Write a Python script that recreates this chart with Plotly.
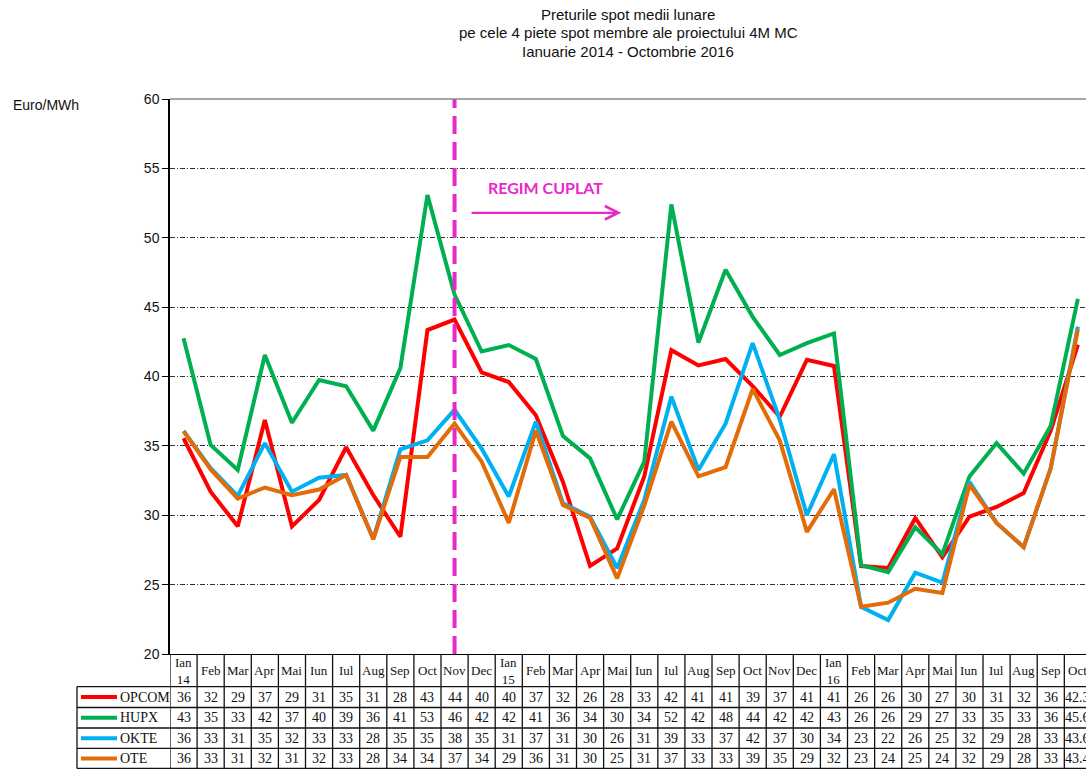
import plotly.graph_objects as go

# ---------------- data ----------------
months = ["Ian<br>14", "Feb", "Mar", "Apr", "Mai", "Iun", "Iul", "Aug", "Sep", "Oct", "Nov", "Dec",
          "Ian<br>15", "Feb", "Mar", "Apr", "Mai", "Iun", "Iul", "Aug", "Sep", "Oct", "Nov", "Dec",
          "Ian<br>16", "Feb", "Mar", "Apr", "Mai", "Iun", "Iul", "Aug", "Sep", "Oct"]

opcom = [35.55, 31.7, 29.2, 36.86, 29.2, 31.1, 34.9, 31.46, 28.45, 43.35, 44.1, 40.3,
         39.6, 37.2, 32.4, 26.34, 27.6, 32.8, 41.9, 40.8, 41.26, 39.3, 37.1, 41.2,
         40.76, 26.34, 26.2, 29.8, 26.97, 29.9, 30.6, 31.6, 36.1, 42.3]
hupx = [42.75, 35.06, 33.26, 41.55, 36.67, 39.75, 39.3, 36.1, 40.6, 53.08, 45.9, 41.8,
        42.27, 41.26, 35.7, 34.1, 29.7, 33.86, 52.4, 42.45, 47.7, 44.3, 41.55, 42.4,
        43.1, 26.4, 25.9, 29.13, 27.2, 32.8, 35.2, 33.0, 36.45, 45.6]
okte = [36.07, 33.4, 31.4, 35.2, 31.7, 32.7, 32.9, 28.3, 34.75, 35.4, 37.6, 34.8,
        31.35, 36.75, 30.86, 29.9, 26.2, 31.1, 38.55, 33.26, 36.6, 42.4, 36.9, 30.0,
        34.4, 23.4, 22.45, 25.86, 25.14, 32.4, 29.45, 27.7, 33.4, 43.6]
ote = [36.07, 33.3, 31.2, 32.0, 31.45, 31.85, 32.9, 28.27, 34.2, 34.2, 36.6, 33.86,
       29.45, 36.1, 30.74, 29.8, 25.45, 30.7, 36.75, 32.8, 33.46, 39.1, 35.4, 28.8,
       31.87, 23.4, 23.7, 24.7, 24.4, 32.2, 29.45, 27.7, 33.4, 43.4]

series_names = ["OPCOM", "HUPX", "OKTE", "OTE"]
series_values = [opcom, hupx, okte, ote]
series_colors = ["#FF0000", "#00B050", "#00B0F0", "#E36C09"]

coupling_start = 10  # Nov 2014

# ---------------- geometry helpers ----------------
W, H = 1086, 769
ML, MR, MT, MB = 170, 0, 99, 115
plot_h = H - MT - MB
plot_w = W - ML - MR
XR = [-0.5, 33.3]


def py(p):  # pixel y -> paper y
    return (H - MB - p) / plot_h


def px(p):  # pixel x -> paper x
    return (p - ML) / plot_w


x_idx = list(range(len(months)))

fig = go.Figure()
for name, vals, col in zip(series_names, series_values, series_colors):
    fig.add_trace(go.Scatter(x=x_idx, y=vals, mode="lines", name=name,
                             line=dict(color=col, width=4), showlegend=False,
                             hoverinfo="skip"))

shapes = []
annotations = []

# coupling line
shapes.append(dict(type="line", xref="x", yref="paper", x0=coupling_start, x1=coupling_start,
                   y0=0, y1=1, line=dict(color="#E828C8", width=4, dash="18px,8px"),
                   layer="above"))

# top border line (gray)
shapes.append(dict(type="line", xref="paper", yref="paper", x0=0, x1=1, y0=1, y1=1,
                   line=dict(color="#888888", width=1.5)))

# table geometry
row_edges = [686.7, 707.5, 728.0, 748.3, 768.5]
serif = "Liberation Serif, Times New Roman, serif"
line_col = "#111111"

for k in range(len(months) + 1):
    shapes.append(dict(type="line", xref="x", yref="paper", x0=k - 0.5, x1=k - 0.5,
                       y0=0, y1=py(row_edges[-1]), line=dict(color=line_col, width=1.3)))
for r in row_edges:
    shapes.append(dict(type="line", xref="paper", yref="paper", x0=px(77), x1=1.0,
                       y0=py(r), y1=py(r), line=dict(color=line_col, width=1.3)))
shapes.append(dict(type="line", xref="paper", yref="paper", x0=px(77), x1=px(77),
                   y0=py(row_edges[0]), y1=py(row_edges[-1]), line=dict(color=line_col, width=1.3)))

# header labels
for i, m in enumerate(months):
    annotations.append(dict(xref="x", yref="paper", x=i, y=py(670.5), text=m, showarrow=False,
                            font=dict(family=serif, size=13, color="#111"),
                            xanchor="center", yanchor="middle"))

# rows
for r, (name, vals, col) in enumerate(zip(series_names, series_values, series_colors)):
    yc = py((row_edges[r] + row_edges[r + 1]) / 2)
    shapes.append(dict(type="line", xref="paper", yref="paper", x0=px(81), x1=px(117),
                       y0=yc, y1=yc, line=dict(color=col, width=4)))
    annotations.append(dict(xref="paper", yref="paper", x=px(118), y=yc, text=name,
                            showarrow=False, xanchor="left", yanchor="middle",
                            font=dict(family=serif, size=14, color="#111")))
    for i, v in enumerate(vals):
        txt = f"{v:.1f}" if i == len(vals) - 1 else f"{round(v)}"
        annotations.append(dict(xref="x", yref="paper", x=i, y=yc, text=txt, showarrow=False,
                                xanchor="center", yanchor="middle",
                                font=dict(family=serif, size=14, color="#111")))

# title lines
title_lines = ["Preturile spot medii lunare",
               "pe cele 4 piete spot membre ale proiectului 4M MC",
               "Ianuarie 2014 - Octombrie 2016"]
for t, yp in zip(title_lines, [14, 32.7, 51.5]):
    annotations.append(dict(xref="paper", yref="paper", x=0.5, y=py(yp), text=t, showarrow=False,
                            xanchor="center", yanchor="middle",
                            font=dict(family="Liberation Sans, Arial", size=15, color="#111")))

# unit label
annotations.append(dict(xref="paper", yref="paper", x=px(11), y=py(105), text="Euro/MWh",
                        showarrow=False, xanchor="left", yanchor="middle",
                        font=dict(family="Liberation Sans, Arial", size=14, color="#111")))

# regime label + arrow
annotations.append(dict(xref="x", yref="y", x=13.35, y=53.6, text="<b>REGIM CUPLAT</b>",
                        showarrow=False, xanchor="center", yanchor="middle",
                        font=dict(family="Lato, Open Sans", size=16, color="#E828C8")))
annotations.append(dict(xref="x", yref="y", x=16.15, y=51.8, ax=10.57, ay=51.8,
                        axref="x", ayref="y", text="", showarrow=True,
                        arrowhead=5, arrowsize=1.2, arrowwidth=2.2, arrowcolor="#E828C8"))

fig.update_layout(
    width=W, height=H, autosize=False,
    margin=dict(l=ML, r=MR, t=MT, b=MB, pad=0),
    paper_bgcolor="white", plot_bgcolor="white",
    shapes=shapes, annotations=annotations,
    xaxis=dict(range=XR, showticklabels=False, showgrid=False, zeroline=False,
               showline=True, linecolor="black", linewidth=1.3, ticks=""),
    yaxis=dict(range=[20, 60], dtick=5, tick0=20, showgrid=True, gridcolor="#333333",
               griddash="5px,2px,1px,2px", gridwidth=1, zeroline=False,
               showline=True, linecolor="black", linewidth=1.5,
               ticks="outside", ticklen=6, tickcolor="black",
               tickfont=dict(family="Liberation Sans, Arial", size=14, color="#111")),
)

fig.write_html("out.html", config={"displayModeBar": False},
               post_script="document.body.style.margin='0';")
